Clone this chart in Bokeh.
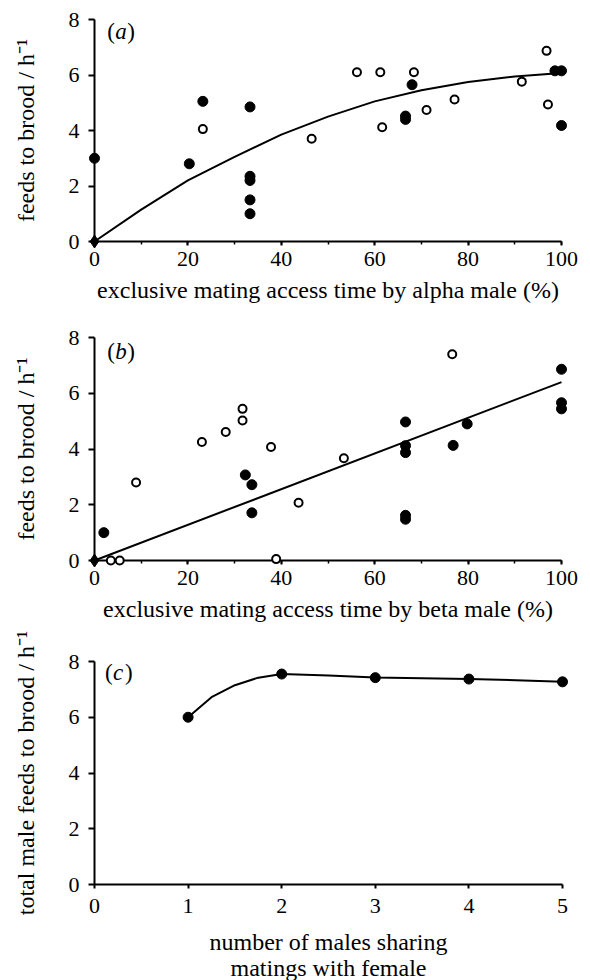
from bokeh.plotting import figure
from bokeh.layouts import column
from bokeh.models import SingleIntervalTicker, Label
from bokeh.embed import file_html
from bokeh.resources import INLINE

FONT = "Liberation Serif"

# ---------- panel (a) ----------
a_filled_x = [0, 20.3, 23.2, 33.3, 33.3, 33.3, 33.3, 33.3, 66.6, 66.6, 68.0, 98.6, 100, 100]
a_filled_y = [3.0, 2.8, 5.05, 4.85, 2.35, 2.2, 1.5, 1.0, 4.52, 4.4, 5.65, 6.15, 6.15, 4.18]
a_open_x = [23.2, 46.5, 56.2, 61.2, 61.6, 68.4, 71.1, 77.1, 91.5, 96.8, 97.1]
a_open_y = [4.05, 3.7, 6.1, 6.1, 4.12, 6.1, 4.74, 5.12, 5.76, 6.87, 4.94]
a_origin_x = [0]
a_origin_y = [0]
a_curve_x = [0, 10, 20, 30, 40, 50, 60, 70, 80, 90, 100]
a_curve_y = [0, 1.15, 2.2, 3.05, 3.85, 4.5, 5.05, 5.45, 5.75, 5.95, 6.07]

# ---------- panel (b) ----------
b_filled_x = [2.0, 32.3, 33.7, 33.7, 66.6, 66.6, 66.6, 66.6, 66.6, 76.8, 79.8, 100, 100, 100]
b_filled_y = [1.0, 3.07, 2.72, 1.71, 4.97, 4.12, 3.87, 1.62, 1.48, 4.13, 4.9, 6.86, 5.66, 5.44]
b_open_x = [3.5, 5.4, 8.9, 23.0, 28.1, 31.7, 31.7, 37.8, 38.9, 43.7, 53.4, 76.6]
b_open_y = [0, 0, 2.8, 4.25, 4.61, 5.44, 5.02, 4.07, 0.05, 2.07, 3.67, 7.4]
b_origin_x = [0]
b_origin_y = [0]
b_line_x = [0, 100]
b_line_y = [0, 6.4]

# ---------- panel (c) ----------
c_x = [1, 2, 3, 4, 5]
c_y = [6.0, 7.55, 7.42, 7.37, 7.27]
c_curve_x = [1, 1.25, 1.5, 1.75, 2.0, 2.5, 3.0, 3.5, 4.0, 4.5, 5.0]
c_curve_y = [6.0, 6.72, 7.15, 7.42, 7.55, 7.5, 7.43, 7.4, 7.37, 7.33, 7.27]

# axis extents
ab_x_bounds = (0, 100)
c_x_bounds = (0, 5)
y_bounds = (0, 8)

y_label = "feeds to brood / h\u207b\u00b9"
c_y_label = "total male feeds to brood / h\u207b\u00b9"
a_x_label = "exclusive mating access time by alpha male (%)"
b_x_label = "exclusive mating access time by beta male (%)"
c_x_label = "number of males sharing\nmatings with female"

PAD_X = 14   # px between frame edge and x = 0 line
PAD_Y = 8    # px between frame edge and y = 0 line


def make_fig(x_bounds, x_px, x_interval, x_minor, y_px, border_top, border_bottom):
    x0, x1 = x_bounds
    y0, y1 = y_bounds
    xpad = PAD_X / x_px
    ypad = PAD_Y / y_px
    fw = int(round((x1 - x0) * x_px + 2 * PAD_X))
    fh = int(round((y1 - y0) * y_px + 2 * PAD_Y))
    p = figure(x_range=(x0 - xpad, x1 + xpad), y_range=(y0 - ypad, y1 + ypad),
               frame_width=fw, frame_height=fh,
               min_border_left=80, min_border_right=5,
               min_border_top=border_top, min_border_bottom=border_bottom,
               output_backend="svg", toolbar_location=None)
    p.outline_line_color = None
    p.grid.visible = False
    p.background_fill_color = "white"
    p.border_fill_color = "white"

    xa = p.xaxis[0]
    xa.ticker = SingleIntervalTicker(interval=x_interval, num_minor_ticks=x_minor)
    xa.bounds = x_bounds
    ya = p.yaxis[0]
    ya.ticker = SingleIntervalTicker(interval=2, num_minor_ticks=0)
    ya.bounds = y_bounds

    for ax in (xa, ya):
        ax.axis_line_color = None
        ax.major_tick_line_width = 2
        ax.major_tick_line_color = "black"
        ax.minor_tick_line_width = 1.5
        ax.minor_tick_line_color = "black"
        ax.major_label_text_font = FONT
        ax.major_label_text_font_size = "22px"
        ax.major_label_text_color = "black"
        ax.axis_label_text_font = FONT
        ax.axis_label_text_font_size = "24px"
        ax.axis_label_text_font_style = "normal"
        ax.axis_label_text_color = "black"
    # ticks start at the zero line inside the padded frame and point outward
    xa.major_tick_in = PAD_Y
    xa.major_tick_out = 4 - PAD_Y
    xa.minor_tick_in = PAD_Y
    xa.minor_tick_out = 3 - PAD_Y
    xa.major_label_standoff = 6
    xa.axis_label_standoff = 8
    ya.major_tick_in = PAD_X
    ya.major_tick_out = 6 - PAD_X
    ya.major_label_standoff = 1
    ya.axis_label_standoff = 27

    # axis rules along the zero lines
    p.line([x0, x1], [y0, y0], line_width=2, line_color="black")
    p.line([x0, x0], [y0, y1], line_width=2, line_color="black")
    return p


def add_letter(p, x, y, letter):
    kw = dict(x=x, y=y, text_font=FONT, text_font_size="23px",
              text_baseline="middle", text_color="black")
    p.add_layout(Label(text="(", x_offset=2, **kw))
    p.add_layout(Label(text=letter, x_offset=10, text_font_style="italic", **kw))
    p.add_layout(Label(text=")", x_offset=22, **kw))


def add_points(p, fx, fy, ox, oy):
    p.scatter(fx, fy, marker="circle", size=10, fill_color="black",
              line_color="black", line_width=1)
    p.scatter(ox, oy, marker="circle", size=8, fill_color="white",
              line_color="black", line_width=2)


# panel (a)
pa = make_fig(ab_x_bounds, 4.67, 20, 2, 27.75, 11, 77)
pa.xaxis.axis_label = a_x_label
pa.yaxis.axis_label = y_label
pa.line(a_curve_x, a_curve_y, line_width=2, line_color="black")
add_points(pa, a_filled_x, a_filled_y, a_open_x, a_open_y)
pa.scatter(a_origin_x, a_origin_y, marker="diamond", size=13, fill_color="black",
           line_color="black")
add_letter(pa, 2.3, 7.55, "a")

# panel (b)
pb = make_fig(ab_x_bounds, 4.67, 20, 2, 27.875, 3, 59)
pb.xaxis.axis_label = b_x_label
pb.yaxis.axis_label = y_label
pb.line(b_line_x, b_line_y, line_width=2, line_color="black")
add_points(pb, b_filled_x, b_filled_y, b_open_x, b_open_y)
pb.scatter(b_origin_x, b_origin_y, marker="diamond", size=13, fill_color="black",
           line_color="black")
add_letter(pb, 2.3, 7.51, "b")

# panel (c)
pc = make_fig(c_x_bounds, 93.6, 1, 0, 27.875, 26, 88)
pc.xaxis.axis_label = c_x_label
pc.xaxis.axis_label_standoff = 13
pc.xaxis.axis_label_text_line_height = 1.0
pc.yaxis.axis_label = c_y_label
pc.line(c_curve_x, c_curve_y, line_width=2, line_color="black")
pc.scatter(c_x, c_y, marker="circle", size=10, fill_color="black",
           line_color="black", line_width=1)
add_letter(pc, 0.09, 7.6, "c")

layout = column(pa, pb, pc, spacing=0)
open("out.html", "w").write(file_html(layout, INLINE))
